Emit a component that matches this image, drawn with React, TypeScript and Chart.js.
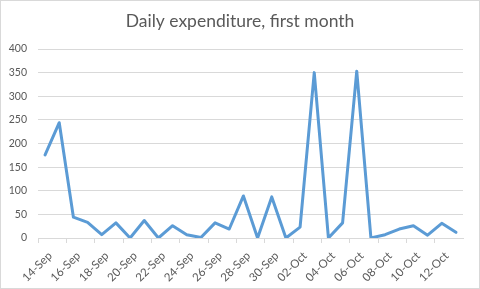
import React, { useEffect, useRef } from "react";
import { Chart, registerables } from "chart.js";

Chart.register(...registerables);

const categories: string[] = [
  "14-Sep", "15-Sep", "16-Sep", "17-Sep", "18-Sep", "19-Sep", "20-Sep", "21-Sep", "22-Sep", "23-Sep",
  "24-Sep", "25-Sep", "26-Sep", "27-Sep", "28-Sep", "29-Sep", "30-Sep", "01-Oct", "02-Oct", "03-Oct",
  "04-Oct", "05-Oct", "06-Oct", "07-Oct", "08-Oct", "09-Oct", "10-Oct", "11-Oct", "12-Oct", "13-Oct",
];

const expenditure: number[] = [
  176, 244, 44, 33, 7, 32, 0, 37, 0, 26,
  7, 1, 32, 19, 89, 0, 87, 0, 23, 350,
  0, 32, 353, 0, 7, 19, 26, 6, 31, 12,
];

const title = "Daily expenditure, first month";
const yMin = 0;
const yMax = 400;
const yStep = 50;

const FONT = "Lato, 'Open Sans', sans-serif";

export default function App() {
  const ref = useRef<HTMLCanvasElement | null>(null);

  useEffect(() => {
    document.body.style.margin = "0";
    const canvas = ref.current;
    if (!canvas) return;
    const chart = new Chart(canvas, {
      type: "line",
      data: {
        labels: categories,
        datasets: [
          {
            data: expenditure,
            yAxisID: "y",
            borderColor: "#5B9BD5",
            borderWidth: 3,
            pointRadius: 0,
            tension: 0,
            borderJoinStyle: "round",
            borderCapStyle: "round",
            fill: false,
          },
        ],
      },
      options: {
        animation: false,
        responsive: false,
        maintainAspectRatio: false,
        layout: { padding: 0 },
        plugins: {
          legend: { display: false },
          tooltip: { enabled: false },
          title: {
            display: true,
            text: title,
            color: "#595959",
            font: { family: FONT, size: 17.5, weight: "normal" },
            padding: { top: 10, bottom: 17 },
          },
        },
        scales: {
          x: {
            type: "category",
            offset: true,
            grid: {
              offset: true,
              drawOnChartArea: false,
              drawTicks: true,
              tickLength: 5,
              color: (ctx: any) => (ctx.index % 2 === 0 ? "#d9d9d9" : "rgba(0,0,0,0)"),
            },
            border: { display: true, color: "#d9d9d9" },
            ticks: {
              autoSkip: false,
              minRotation: 45,
              maxRotation: 45,
              color: "#595959",
              font: { family: FONT, size: 11.5 },
              padding: 6,
              labelOffset: 5,
              callback: (_v: any, i: number) => (i % 2 === 0 ? categories[i] : ""),
            },
            afterFit: (s: any) => {
              s.height = 50;
            },
          },
          y: {
            min: yMin,
            max: yMax,
            grid: { color: "#d9d9d9", drawTicks: false },
            border: { display: false },
            ticks: {
              stepSize: yStep,
              color: "#595959",
              font: { family: FONT, size: 10.5 },
              padding: 11,
            },
            afterFit: (s: any) => {
              s.width = 37;
            },
          },
          spacer: {
            type: "linear",
            position: "right",
            display: true,
            grid: { drawOnChartArea: false, drawTicks: false, display: false },
            border: { display: false },
            ticks: { display: false },
            afterFit: (s: any) => {
              s.width = 16;
            },
          },
        },
      },
    });
    return () => chart.destroy();
  }, []);

  return (
    <div
      style={{
        position: "absolute",
        left: 0,
        top: 0,
        width: 480,
        height: 289,
        boxSizing: "border-box",
        border: "1px solid #d9d9d9",
        background: "#fff",
      }}
    >
      <canvas ref={ref} width={478} height={287} style={{ display: "block" }} />
    </div>
  );
}
